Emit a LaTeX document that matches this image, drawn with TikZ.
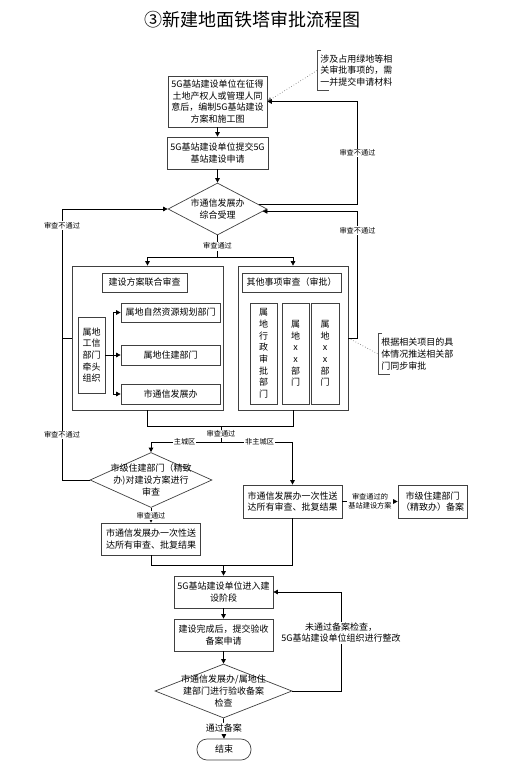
\documentclass[tikz,border=0pt]{standalone}
\usepackage{fontspec}
\setmainfont{Noto Sans CJK SC}
\usetikzlibrary{shapes.geometric,arrows.meta}

\tikzset{
  box/.style={draw=black!75,rectangle,inner sep=2pt,align=center,font=\fontsize{9}{11.7}\selectfont},
  decision/.style={draw=black!75,diamond,inner sep=0pt},
  dtext/.style={align=center,inner sep=0pt,font=\fontsize{9}{11.7}\selectfont},
  group/.style={draw=black!75,rectangle},
  lbl/.style={fill=white,inner sep=1pt,font=\fontsize{7.2}{8.6}\selectfont},
  lblbig/.style={fill=white,inner sep=1pt,align=center,font=\fontsize{9}{11.7}\selectfont},
  note/.style={inner sep=3pt,align=left,anchor=west,font=\fontsize{9}{11.7}\selectfont},
}

\begin{document}
\begin{tikzpicture}[x=1pt,y=-1pt,line width=0.7pt,>={Triangle[length=4.5pt,width=4.5pt]}]
\useasboundingbox (0,0) rectangle (507,778);

\node[font=\fontsize{18}{20}\selectfont] at (252,20) (title) {③新建地面铁塔审批流程图};

\node[box,minimum width=99pt,minimum height=51pt] at (217.5,101.5) (a) {5G基站建设单位在征得\\土地产权人或管理人同\\意后，编制5G基站建设\\方案和施工图};
\node[box,minimum width=101pt,minimum height=32pt] at (217.5,153) (b) {5G基站建设单位提交5G\\基站建设申请};
\node[decision,minimum width=99pt,minimum height=52pt] at (217.5,209) (c) {};
\node[dtext] at (c) (ctext) {市通信发展办\\综合受理};
\node[note,minimum height=39pt] at (317,70.5) (n1) {涉及占用绿地等相\\关审批事项的，需\\一并提交申请材料};

% joint review groups
\node[group,minimum width=151pt,minimum height=144pt] at (147.5,338) (g1) {};
\node[group,minimum width=110pt,minimum height=144pt] at (293,338) (g2) {};
\node[box,minimum width=85pt,minimum height=19pt] at (144.5,282.5) (t1) {建设方案联合审查};
\node[box,minimum width=99pt,minimum height=19pt] at (291.5,282.5) (t2) {其他事项审查（审批）};
\node[box,minimum width=27pt,minimum height=76pt] at (91.5,355) (lead) {属地\\工信\\部门\\牵头\\组织};
\node[box,minimum width=99pt,minimum height=19pt] at (170.5,312.5) (d1) {属地自然资源规划部门};
\node[box,minimum width=99pt,minimum height=20pt] at (170.5,355) (d2) {属地住建部门};
\node[box,minimum width=99pt,minimum height=20pt] at (170.5,394) (d3) {市通信发展办};
\node[box,minimum width=27pt,minimum height=101pt] at (263.5,353.5) (v1) {属\\地\\行\\政\\审\\批\\部\\门};
\node[box,minimum width=27pt,minimum height=101pt] at (295.5,353.5) (v2) {属\\地\\x\\x\\部\\门};
\node[box,minimum width=28pt,minimum height=101pt] at (325,353.5) (v3) {属\\地\\x\\x\\部\\门};
\node[note,minimum height=40pt] at (378,354) (n2) {根据相关项目的具\\体情况推送相关部\\门同步审批};

% municipal review
\node[decision,minimum width=122pt,minimum height=55pt] at (151,480) (e) {};
\node[dtext] at (e) (etext) {市级住建部门（精致\\办)对建设方案进行\\审查};
\node[box,minimum width=99pt,minimum height=32pt] at (151,539) (f) {市通信发展办一次性送\\达所有审查、批复结果};
\node[box,minimum width=99pt,minimum height=33pt] at (292.5,501.5) (g) {市通信发展办一次性送\\达所有审查、批复结果};
\node[box,minimum width=69pt,minimum height=33pt] at (432.5,501.5) (h) {市级住建部门\\（精致办）备案};

% construction
\node[box,minimum width=99pt,minimum height=32pt] at (223.5,592) (i) {5G基站建设单位进入建\\设阶段};
\node[box,minimum width=99pt,minimum height=32pt] at (223.5,635) (j) {建设完成后，提交验收\\备案申请};
\node[decision,minimum width=137pt,minimum height=54pt] at (223.5,691) (k) {};
\node[dtext] at (k) (ktext) {市通信发展办/属地住\\建部门进行验收备案\\检查};
\node[box,rounded corners=10pt,minimum width=54pt,minimum height=21pt] at (224,749.5) (stop) {结束};

% notes
\draw[black!70] ([xshift=4pt]n1.north west) -- (n1.north west) -- (n1.south west) -- ([xshift=12pt]n1.south west);
\draw[black!70] ([xshift=4pt]n2.north west) -- (n2.north west) -- (n2.south west) -- ([xshift=12pt]n2.south west);
\draw[->,dotted,black!50] (n1.west) -- (a.east);
\draw[dotted,black!50] (g2.east) -- (n2.west);

\draw[->] (a) -- (b);
\draw[->] (b) -- (c);

\coordinate (rr) at (357.5,0);
\draw[->] (c.6) -- (c.6 -| rr) -- node[lbl]{审查不通过} (rr |- a.east) -- (a.east);
\draw[->] (g2.east) -- (g2.east -| rr) -- node[lbl,pos=0.85]{审查不通过} (rr |- c.-3) -- (c.-3);

\coordinate (ll) at (62,0);
\draw[->] (e.west) -- (e.west -| ll) -- node[lbl,pos=0.166]{审查不通过} node[lbl,pos=0.94]{审查不通过} (ll |- c.west) -- (c.west);
\draw (g1.west) -- (g1.west -| ll);

\coordinate (s1) at (217.5,257);
\draw (c.south) -- node[lbl]{审查通过} (s1);
\draw[->] (s1) -| (g1.north);
\draw[->] (s1) -| (g2.north);

\coordinate (fork) at (113,355);
\draw (lead.east) -- (fork);
\draw[->] (fork) |- (d1.west);
\draw[->] (fork) -- (d2.west);
\draw[->] (fork) |- (d3.west);

\coordinate (m1) at (221,426);
\coordinate (m2) at (221,442);
\draw (g1.south) |- (m1);
\draw (g2.south) |- (m1);
\draw (m1) -- node[lbl]{审查通过} (m2);
\draw[->] (m2) -| node[lbl,pos=0.26]{主城区} (e.north);
\draw[->] (m2) -| node[lbl,pos=0.27]{非主城区} (g.north);

\draw[->] (e.south) -- node[lbl]{审查通过} (f.north);
\draw[->] (g.east) -- node[lbl,align=center]{审查通过的\\基站建设方案} (h.west);

\coordinate (m3) at (223.5,565);
\draw (f.south) |- (m3);
\draw (g.south) |- (m3);
\draw[->] (m3) -- (i.north);
\draw[->] (i) -- (j);
\draw[->] (j) -- (k);

\coordinate (rk) at (341,0);
\draw[->] (k.east) -- (k.east -| rk) -- node[lblbig,pos=0.59]{未通过备案检查，\\5G基站建设单位组织进行整改} (rk |- i.east) -- (i.east);
\draw[->] (k.south) -- node[lblbig]{通过备案} (stop.north);

\end{tikzpicture}
\end{document}
